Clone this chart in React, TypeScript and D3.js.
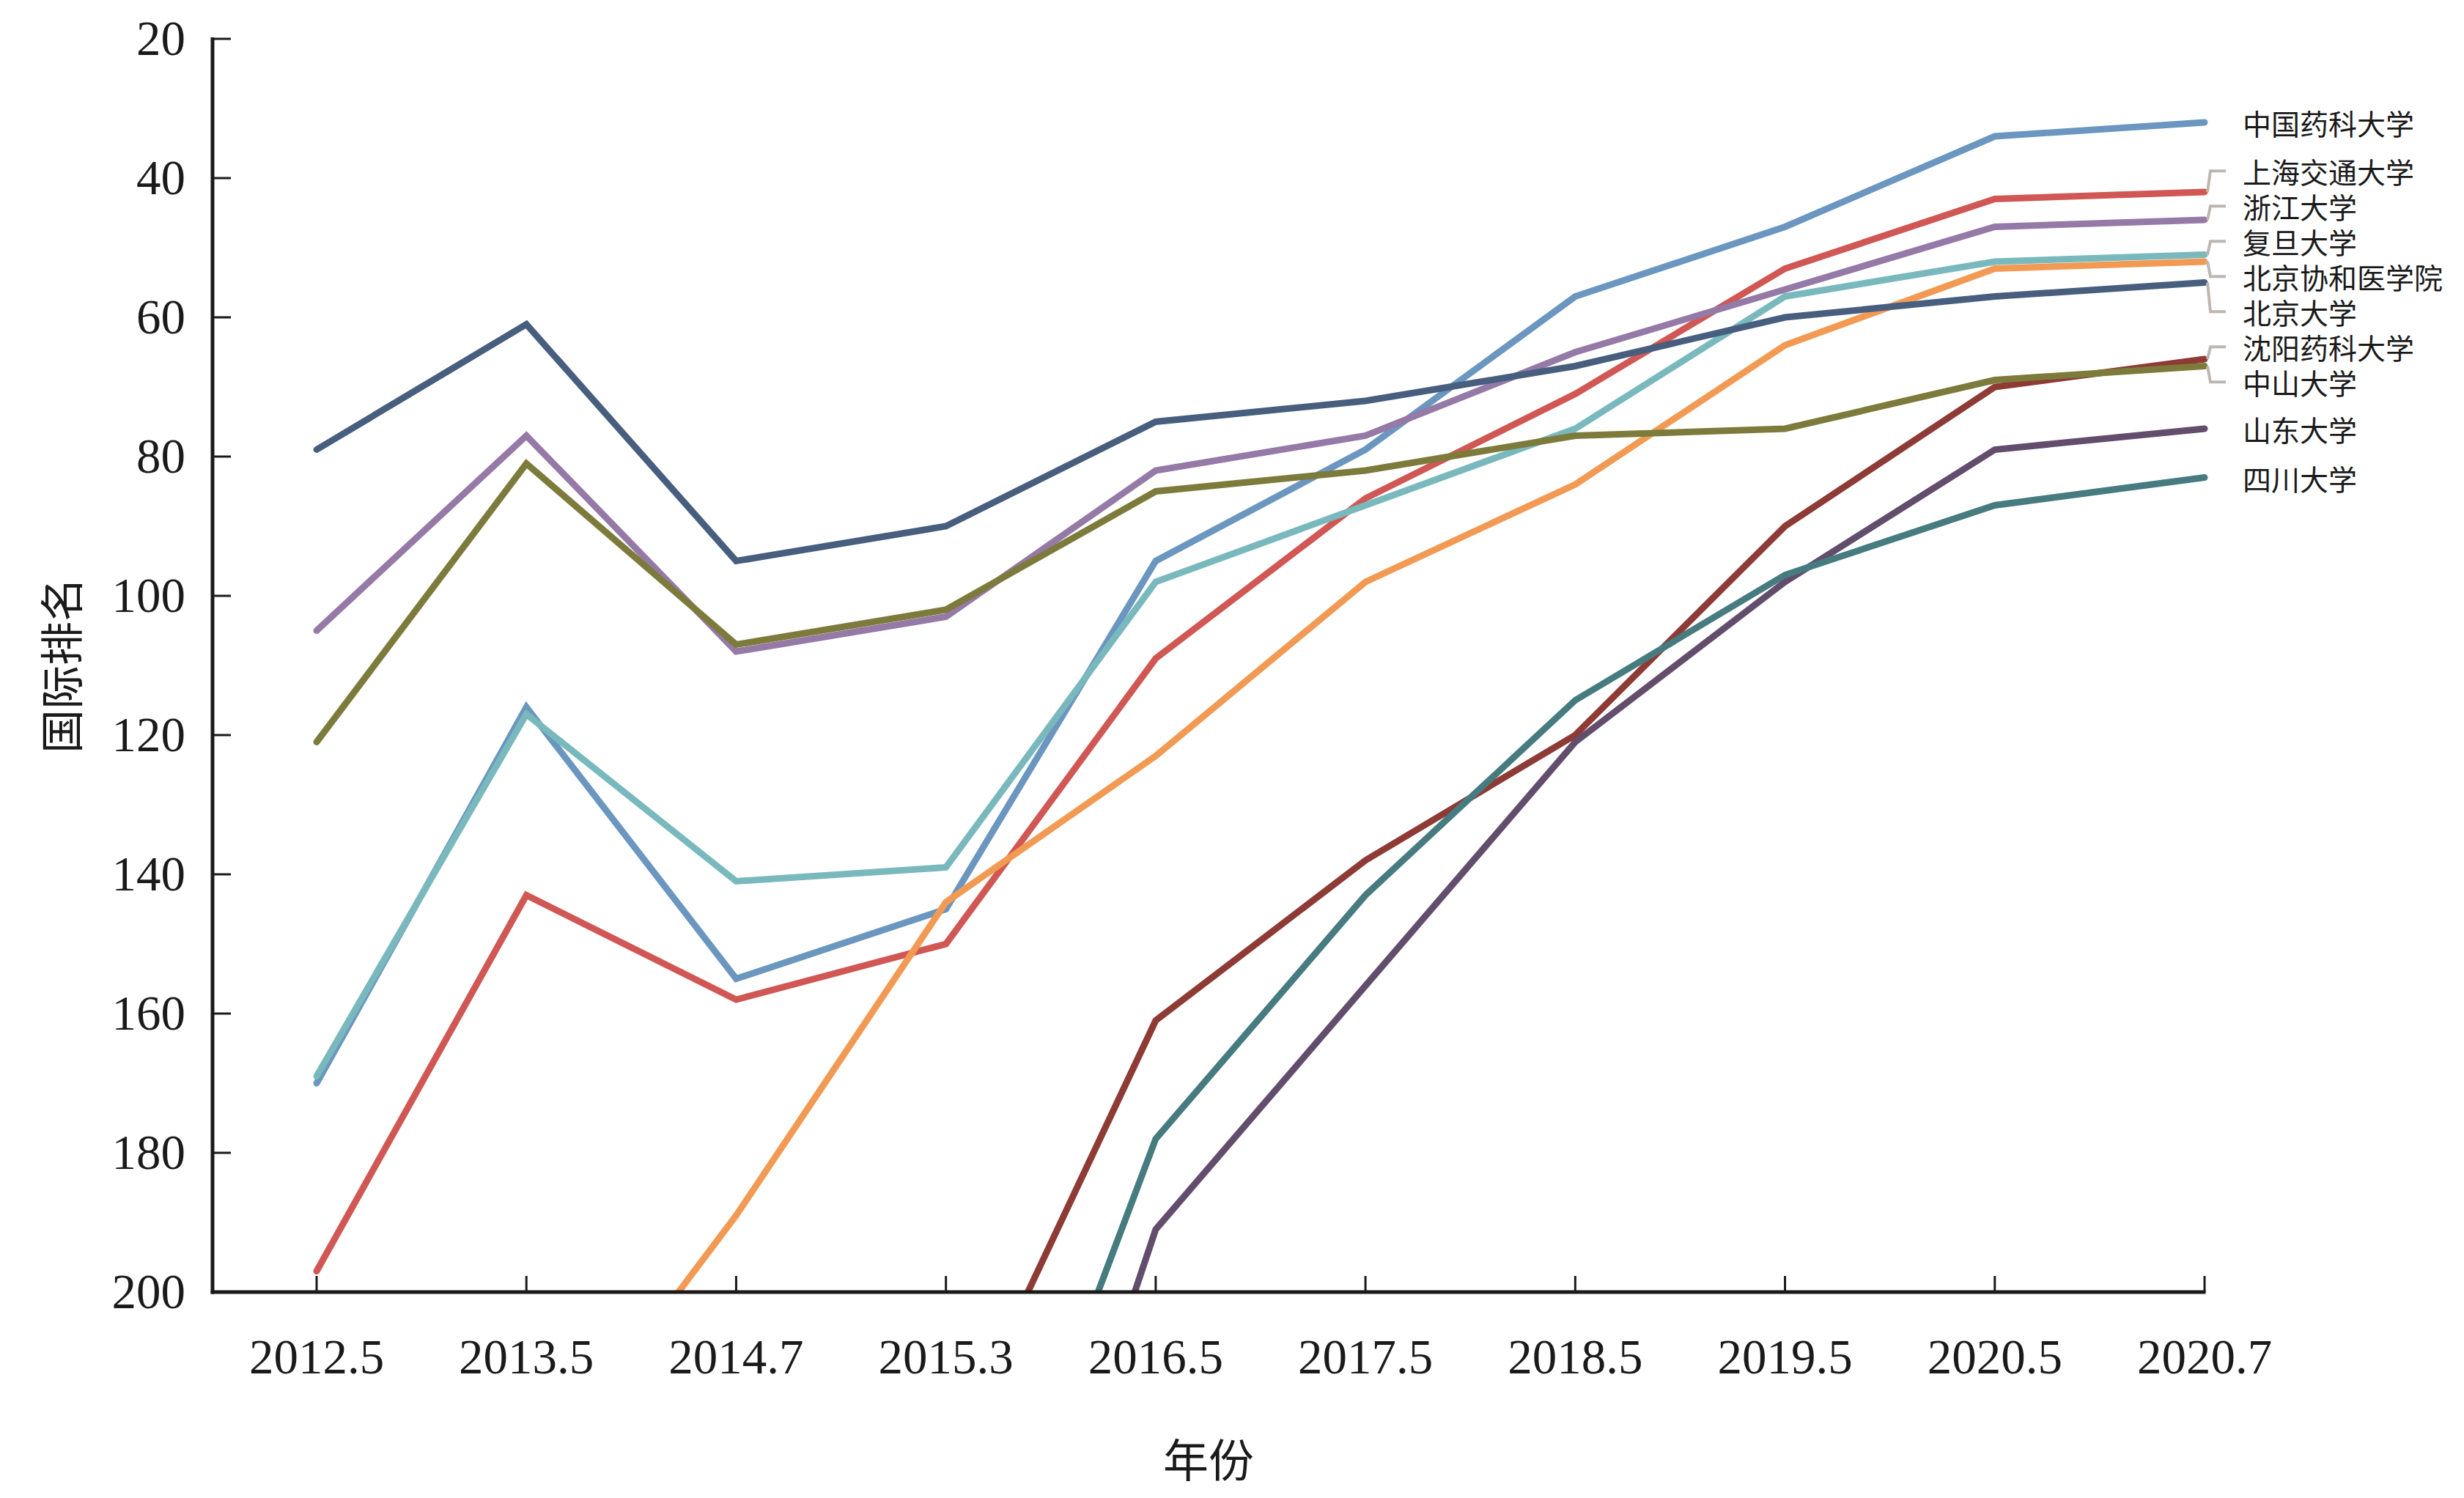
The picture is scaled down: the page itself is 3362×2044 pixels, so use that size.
import React from 'react';
import * as d3 from 'd3';

const categories = ['2012.5', '2013.5', '2014.7', '2015.3', '2016.5', '2017.5', '2018.5', '2019.5', '2020.5', '2020.7'];

const cpu = [170, 116, 155, 145, 95, 79, 57, 47, 34, 32];
const sjtu = [197, 143, 158, 150, 109, 86, 71, 53, 43, 42];
const zju = [105, 77, 108, 103, 82, 77, 65, 56, 47, 46];
const fudan = [169, 117, 141, 139, 98, 87, 76, 57, 52, 51];
const pumc = [null, 229, 189, 144, 123, 98, 84, 64, 53, 52];
const pku = [79, 61, 95, 90, 75, 72, 67, 60, 57, 55];
const syphu = [null, null, null, 225, 161, 138, 120, 90, 70, 66];
const sysu = [121, 81, 107, 102, 85, 82, 77, 76, 69, 67];
const sdu = [null, null, null, 281, 191, 156, 121, 98, 79, 76];
const scu = [null, null, null, 258, 178, 143, 115, 97, 87, 83];

const seriesNames = ['中国药科大学', '上海交通大学', '浙江大学', '复旦大学', '北京协和医学院', '北京大学', '沈阳药科大学', '中山大学', '山东大学', '四川大学'];
const seriesValues = [cpu, sjtu, zju, fudan, pumc, pku, syphu, sysu, sdu, scu];
const seriesColors = ['#6a96bf', '#d05753', '#9579a6', '#79b9bd', '#f29a53', '#475e7e', '#8e3a35', '#7d7b3b', '#634d6c', '#467b80'];

const yTicks = [20, 40, 60, 80, 100, 120, 140, 160, 180, 200];
const yTitle = '国际排名';
const xTitle = '年份';

const W = 3362;
const H = 2044;
const axisLeft = 290;
const plotTop = 53;
const plotBottom = 1763;
const firstX = 432;
const lastX = 3008;

const serif = "'Liberation Serif', 'Times New Roman', serif";
const cjk = "'Noto Sans CJK SC', 'Noto Sans CJK JP', sans-serif";

export default function App() {
  const x = d3.scalePoint<string>().domain(categories).range([firstX, lastX]);
  const y = d3.scaleLinear().domain([20, 200]).range([plotTop, plotBottom]);

  const line = d3
    .line<number | null>()
    .defined((d) => d != null)
    .x((_, i) => x(categories[i]) as number)
    .y((d) => y(d as number));

  // label layout: least-squares cluster placement with a minimum spacing
  const S = 48;
  const items = seriesNames.map((name, i) => {
    const vals = seriesValues[i];
    const last = vals[vals.length - 1] as number;
    return { name, i, target: y(last), pos: y(last) };
  });
  const sorted = [...items].sort((a, b) => a.target - b.target);
  type Cl = { members: typeof items; top: number };
  const clusters: Cl[] = [];
  const fit = (c: Cl) => {
    c.top = d3.mean(c.members, (m, k) => m.target - k * S) as number;
  };
  for (const it of sorted) {
    const c: Cl = { members: [it], top: it.target };
    clusters.push(c);
    while (clusters.length > 1) {
      const a = clusters[clusters.length - 2];
      const b = clusters[clusters.length - 1];
      if (a.top + a.members.length * S > b.top) {
        a.members = a.members.concat(b.members);
        fit(a);
        clusters.pop();
      } else break;
    }
  }
  clusters.forEach((c) => c.members.forEach((m, k) => (m.pos = c.top + k * S)));

  const xe = lastX;

  return (
    <svg width={W} height={H} style={{ position: 'absolute', left: 0, top: 0, background: '#fff' }}>
      <defs>
        <clipPath id="plotClip">
          <rect x={axisLeft} y={0} width={W - axisLeft} height={plotBottom} />
        </clipPath>
      </defs>

      {/* series lines */}
      <g clipPath="url(#plotClip)">
        {seriesValues.map((vals, i) => (
          <path
            key={seriesNames[i]}
            d={line(vals) || ''}
            fill="none"
            stroke={seriesColors[i]}
            strokeWidth={9}
            strokeLinecap="round"
            strokeLinejoin="miter"
          />
        ))}
      </g>

      {/* y axis */}
      <line x1={axisLeft} x2={axisLeft} y1={plotTop - 2} y2={plotBottom + 2.5} stroke="#1a1a1a" strokeWidth={5} />
      {yTicks.map((t) => (
        <g key={t}>
          <line x1={axisLeft} x2={axisLeft + 25} y1={y(t)} y2={y(t)} stroke="#1a1a1a" strokeWidth={3} />
          <text
            x={253}
            y={y(t)}
            dy="0.33em"
            textAnchor="end"
            fontFamily={serif}
            fontSize={67}
            fill="#1a1a1a"
          >
            {t}
          </text>
        </g>
      ))}

      {/* x axis */}
      <line x1={axisLeft - 2.5} x2={lastX + 1.5} y1={plotBottom} y2={plotBottom} stroke="#1a1a1a" strokeWidth={5} />
      {categories.map((c) => (
        <g key={c}>
          <line x1={x(c)} x2={x(c)} y1={plotBottom} y2={plotBottom - 22} stroke="#1a1a1a" strokeWidth={3} />
          <text
            x={x(c)}
            y={1874}
            textAnchor="middle"
            fontFamily={serif}
            fontSize={67}
            fill="#1a1a1a"
          >
            {c}
          </text>
        </g>
      ))}

      {/* axis titles */}
      <text
        transform={`translate(80, ${(plotTop + plotBottom) / 2}) rotate(-90)`}
        textAnchor="middle"
        dominantBaseline="central"
        fontFamily={cjk}
        fontSize={60}
        fill="#1a1a1a"
      >
        {yTitle}
      </text>
      <text
        x={(axisLeft + lastX) / 2}
        y={1989}
        textAnchor="middle"
        dominantBaseline="central"
        fontFamily={cjk}
        fontSize={62}
        fill="#1a1a1a"
      >
        {xTitle}
      </text>

      {/* end labels with connectors */}
      {items.map((it) => {
        const moved = Math.abs(it.pos - it.target) > 3;
        return (
          <g key={it.name}>
            {moved && (
              <path
                d={`M${xe + 4},${it.target} L${xe + 8},${it.pos} L${xe + 29},${it.pos}`}
                fill="none"
                stroke="#bdb6b1"
                strokeWidth={4}
              />
            )}
            <text
              x={3060}
              y={it.pos}
              dominantBaseline="central"
              fontFamily={cjk}
              fontSize={39}
              fill="#1a1a1a"
            >
              {it.name}
            </text>
          </g>
        );
      })}
    </svg>
  );
}
